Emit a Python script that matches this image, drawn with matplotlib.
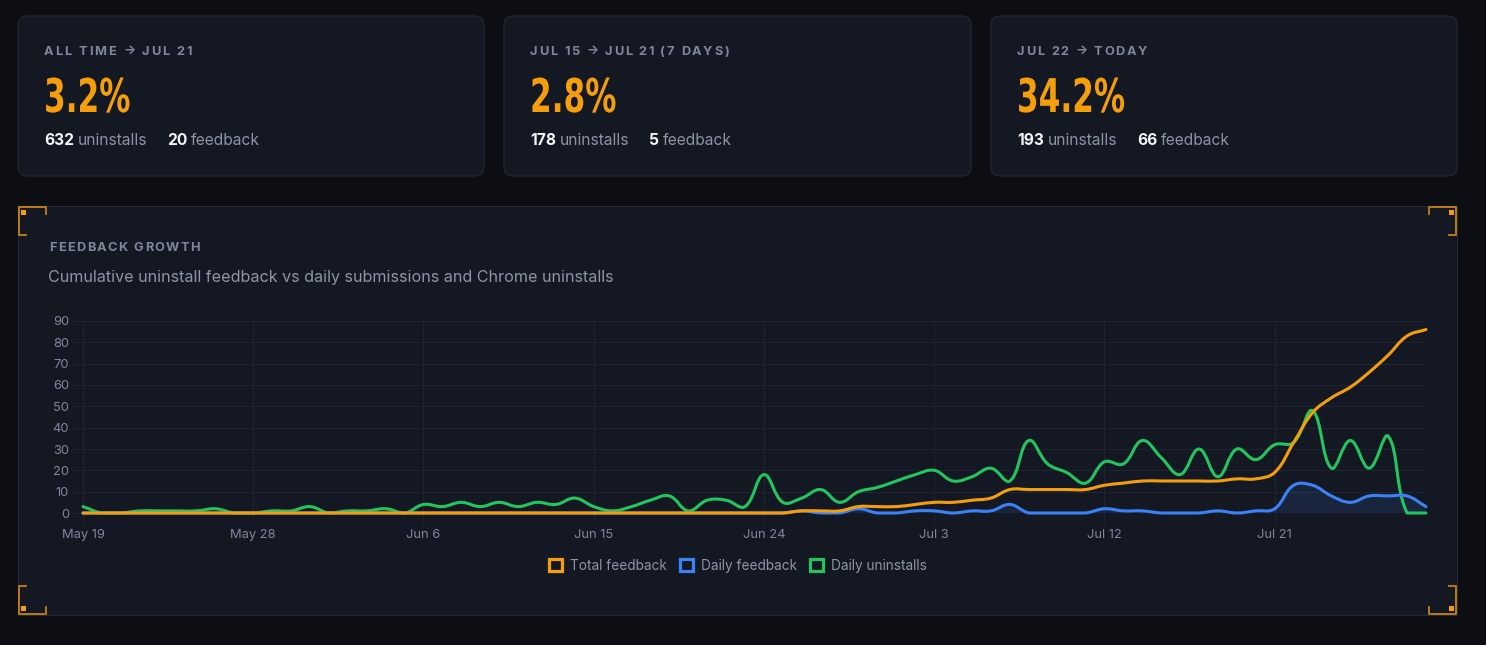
import numpy as np
import matplotlib.pyplot as plt
from matplotlib.path import Path
from matplotlib.patches import PathPatch, FancyBboxPatch, Rectangle, Patch
from matplotlib.lines import Line2D
from matplotlib.patheffects import AbstractPathEffect
from matplotlib.transforms import Affine2D

PAGE = "#0c0e13"
CARD = "#141822"
BORDER = "#232938"
GRID = "#1f2430"
MUTED = "#80879a"
SOFT = "#8d94a4"
WHITE = "#f3f4f7"
ORANGE = "#f59e0b"
BLUE = "#3b82f6"
GREEN = "#22c55e"
SANS = ["Inter", "DejaVu Sans"]

# ---- data ----
tick_days = [0, 9, 18, 27, 36, 45, 54, 63]
tick_labels = ["May 19", "May 28", "Jun 6", "Jun 15", "Jun 24", "Jul 3", "Jul 12", "Jul 21"]

daily_uninstalls = [
    3, 0, 0, 1, 1, 1, 1, 2, 0, 0,
    1, 1, 3, 0, 1, 1, 2, 0, 4, 3,
    5, 3, 5, 3, 5, 4, 7, 3, 1, 3,
    6, 8, 1, 6, 6, 3, 18, 5, 7, 11,
    5, 10, 12, 15, 18, 20, 15, 17, 21, 15,
    34, 23, 19, 14, 24, 23, 34, 26, 18, 30,
    17, 30, 25, 32, 33, 48, 21, 34, 21, 36,
    0, 0,
]
daily_feedback = [
    0, 0, 0, 0, 0, 0, 0, 0, 0, 0,
    0, 0, 0, 0, 0, 0, 0, 0, 0, 0,
    0, 0, 0, 0, 0, 0, 0, 0, 0, 0,
    0, 0, 0, 0, 0, 0, 0, 0, 1, 0,
    0, 2, 0, 0, 1, 1, 0, 1, 1, 4,
    0, 0, 0, 0, 2, 1, 1, 0, 0, 0,
    1, 0, 1, 2, 13, 13, 8, 5, 8, 8,
    8, 3,
]
total_feedback = [
    0, 0, 0, 0, 0, 0, 0, 0, 0, 0,
    0, 0, 0, 0, 0, 0, 0, 0, 0, 0,
    0, 0, 0, 0, 0, 0, 0, 0, 0, 0,
    0, 0, 0, 0, 0, 0, 0, 0, 1, 1,
    1, 3, 3, 3, 4, 5, 5, 6, 7, 11,
    11, 11, 11, 11, 13, 14, 15, 15, 15, 15,
    15, 16, 16, 19, 33, 47, 54, 59, 66, 74,
    83, 86,
]

cards = [
    ("ALL TIME \u2192 JUL 21", "3.2%", "632", "20"),
    ("JUL 15 \u2192 JUL 21 (7 DAYS)", "2.8%", "178", "5"),
    ("JUL 22 \u2192 TODAY", "34.2%", "193", "66"),
]

W, H = 1486, 645
fig = plt.figure(figsize=(W / 100, H / 100), dpi=100, facecolor=PAGE)
bg = fig.add_axes([0, 0, 1, 1])
bg.set_xlim(0, W)
bg.set_ylim(H, 0)
bg.axis("off")
renderer = fig.canvas.get_renderer()


class Squeeze(AbstractPathEffect):
    """Draw text narrower (condensed display face stand-in)."""

    def __init__(self, sx, x0):
        super().__init__()
        self.sx, self.x0 = sx, x0

    def draw_path(self, renderer, gc, tpath, affine, rgbFace=None):
        squeeze = Affine2D().translate(-self.x0, 0).scale(self.sx, 1).translate(self.x0, 0)
        renderer.draw_path(gc, tpath, affine + squeeze, rgbFace)


def text_width(s, **kw):
    t = bg.text(0, 0, s, **kw)
    w = t.get_window_extent(renderer).width
    t.remove()
    return w


def spaced_text(x, y, s, width, **kw):
    # emulate css letter-spacing by placing each glyph
    wb = text_width("|", **kw)
    offs = [0.0] + [text_width(s[:i] + "|", **kw) - wb for i in range(1, len(s))]
    gap = (width - text_width(s, **kw)) / (len(s) - 1)
    for i, ch in enumerate(s):
        if ch != " ":
            bg.text(x + offs[i] + i * gap, y, ch, ha="left", va="baseline", **kw)


# ---- stat cards ----
card_boxes = [(18, 16, 466), (504, 16, 467), (991, 16, 466)]
label_widths = [148, 199, 130]
for (cx, cy, cw), (label, pct, unin, fb), lw in zip(card_boxes, cards, label_widths):
    bg.add_patch(FancyBboxPatch((cx, cy), cw, 160, boxstyle="round,pad=0,rounding_size=9",
                                facecolor=CARD, edgecolor=BORDER, linewidth=0.8))
    x0 = cx + 26
    spaced_text(x0, 55, label, lw, fontsize=9.2, fontweight="bold", color=MUTED, family=SANS)
    x0_disp = bg.transData.transform((x0, 0))[0]
    bg.text(x0, 112, pct, fontsize=33.5, fontweight="bold", color=ORANGE, family="DejaVu Sans",
            va="baseline", ha="left", path_effects=[Squeeze(0.67, x0_disp)])
    x = x0
    for num, word in [(unin, "uninstalls"), (fb, "feedback")]:
        bg.text(x, 145, num, fontsize=11.2, fontweight="bold", color=WHITE, family=SANS, va="baseline")
        x += text_width(num, fontsize=11.2, fontweight="bold", family=SANS) + 3.5
        bg.text(x, 145, word, fontsize=11.2, color=SOFT, family=SANS, va="baseline")
        x += text_width(word, fontsize=11.2, family=SANS) + 20

# ---- chart panel ----
px, py, pw, ph = 18, 206, 1439, 409
bg.add_patch(Rectangle((px, py), pw, ph, facecolor=CARD, edgecolor=BORDER, linewidth=0.8))

# corner brackets
for sx, sy in [(1, 1), (-1, 1), (1, -1), (-1, -1)]:
    ox = px + 1 if sx > 0 else px + pw - 1
    oy = py + 1 if sy > 0 else py + ph - 1
    bg.add_line(Line2D([ox, ox, ox + sx * 25], [oy + sy * 26, oy, oy], color=ORANGE, alpha=0.8,
                       lw=1.3, solid_joinstyle="round"))
    bg.add_line(Line2D([ox, ox + sx * 7], [oy + sy * 28, oy + sy * 28], color=ORANGE, alpha=0.8, lw=1.3))
    bg.add_line(Line2D([ox + sx * 27, ox + sx * 27], [oy, oy + sy * 7], color=ORANGE, alpha=0.8, lw=1.3))
    bg.add_patch(Rectangle((ox + sx * 2 - (5 if sx < 0 else 0), oy + sy * 3 - (5 if sy < 0 else 0)), 5, 5,
                           facecolor=ORANGE, edgecolor="none"))

spaced_text(49, 251, "FEEDBACK GROWTH", 151, fontsize=9.2, fontweight="bold", color=MUTED, family=SANS)
bg.text(48, 282, "Cumulative uninstall feedback vs daily submissions and Chrome uninstalls",
        fontsize=11.6, color=SOFT, family=SANS, va="baseline")

# ---- line chart ----
L, R, T, B = 83, 1426, 321, 513
ax = fig.add_axes([L / W, (H - B) / H, (R - L) / W, (B - T) / H])
ax.set_facecolor("none")
n = len(daily_uninstalls)
ax.set_xlim(0, n - 1)
ax.set_ylim(0, 90)
days = np.arange(n)
kx = (R - L) / (n - 1)
ky = (B - T) / 90


def spline_path(xs, ys, tension=0.4, close=False):
    # chart.js style bezier with control points capped to the chart area
    p = np.column_stack([xs * kx, np.asarray(ys, float) * ky])
    m = len(p)
    cin, cout = p.copy(), p.copy()
    for i in range(m):
        prev = p[max(i - 1, 0)]
        nxt = p[min(i + 1, m - 1)]
        d01 = np.hypot(*(p[i] - prev))
        d12 = np.hypot(*(nxt - p[i]))
        tot = d01 + d12
        s01 = d01 / tot if tot else 0
        s12 = d12 / tot if tot else 0
        cin[i] = p[i] - tension * s01 * (nxt - prev)
        cout[i] = p[i] + tension * s12 * (nxt - prev)
    verts = [p[0]]
    codes = [Path.MOVETO]
    for i in range(1, m):
        verts += [cout[i - 1], cin[i], p[i]]
        codes += [Path.CURVE4] * 3
    v = np.array(verts)
    v[:, 0] = np.clip(v[:, 0] / kx, 0, n - 1)
    v[:, 1] = np.clip(v[:, 1] / ky, 0, 90)
    v = list(map(tuple, v))
    if close:
        v += [(n - 1, 0), (0, 0), (0, 0)]
        codes += [Path.LINETO, Path.LINETO, Path.CLOSEPOLY]
    return Path(v, codes)


ax.add_patch(PathPatch(spline_path(days, daily_feedback, close=True), facecolor=BLUE, alpha=0.13,
                       edgecolor="none", zorder=1))
for series, color, z in [(daily_uninstalls, GREEN, 2), (daily_feedback, BLUE, 3), (total_feedback, ORANGE, 4)]:
    ax.add_patch(PathPatch(spline_path(days, series), facecolor="none", edgecolor=color, lw=2.2,
                           zorder=z, clip_on=False, capstyle="round", joinstyle="round"))

ax.set_xticks(tick_days)
ax.set_xticklabels(tick_labels)
ax.set_yticks(range(0, 91, 10))
ax.grid(True, color=GRID, lw=0.8)
ax.set_axisbelow(True)
for s in ax.spines.values():
    s.set_visible(False)
ax.tick_params(axis="both", color=GRID, length=7, width=0.8, labelcolor=MUTED, labelsize=9.3)
ax.tick_params(axis="x", pad=4.5)
ax.tick_params(axis="y", pad=3)
for lab in ax.get_xticklabels() + ax.get_yticklabels():
    lab.set_family(SANS)

handles = [Patch(facecolor="none", edgecolor=c, lw=2.3) for c in (ORANGE, BLUE, GREEN)]
leg = fig.legend(handles, ["Total feedback", "Daily feedback", "Daily uninstalls"], loc="center",
                 bbox_to_anchor=(738 / W, 1 - 566 / H), ncol=3, frameon=False, handlelength=0.95,
                 handleheight=0.95, handletextpad=0.55, columnspacing=1.0,
                 prop={"family": SANS, "size": 9.8})
for t in leg.get_texts():
    t.set_color(SOFT)

fig.savefig("out.png", dpi=100, facecolor=PAGE)
